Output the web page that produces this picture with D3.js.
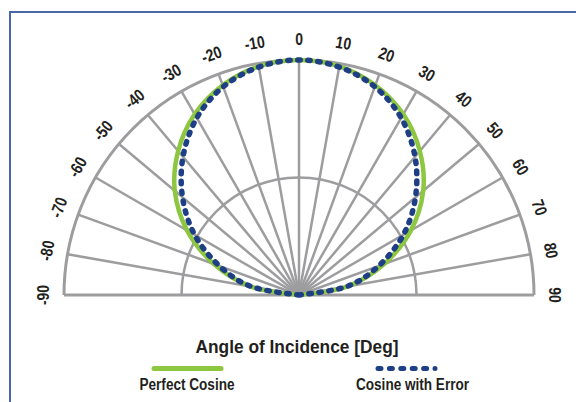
<!DOCTYPE html>
<html>
<head>
<meta charset="utf-8">
<script src="https://cdn.jsdelivr.net/npm/d3@7"></script>
<style>
  html, body { margin: 0; padding: 0; background: #fff; }
  svg { display: block; }
  text { font-family: "Liberation Sans Narrow", "Arial Narrow", "Liberation Sans", sans-serif; font-weight: bold; fill: #231f20; }
</style>
</head>
<body>
<svg id="chart" width="576" height="402"></svg>
<script>
// ---- data ----
const angles = [-90, -80, -70, -60, -50, -40, -30, -20, -10, 0, 10, 20, 30, 40, 50, 60, 70, 80, 90];
const perfectCosine   = [0, 0.21, 0.385, 0.55, 0.69, 0.80, 0.888, 0.95, 0.988, 1.0, 0.988, 0.95, 0.888, 0.80, 0.69, 0.55, 0.385, 0.21, 0];
const cosineWithError = [0, 0.205, 0.36, 0.513, 0.647, 0.768, 0.87, 0.943, 0.985, 1.0, 0.985, 0.943, 0.87, 0.768, 0.647, 0.513, 0.36, 0.205, 0];
const tickLabels = ["-90", "-80", "-70", "-60", "-50", "-40", "-30", "-20", "-10", "0", "10", "20", "30", "40", "50", "60", "70", "80", "90"];
const spokeAngles = [-80, -70, -60, -50, -40, -30, -20, -10, 0, 10, 20, 30, 40, 50, 60, 70, 80];
const gridRings = [0.5, 1.0];
const seriesNames = ["Perfect Cosine", "Cosine with Error"];
const axisTitle = "Angle of Incidence [Deg]";

// ---- layout ----
const svg = d3.select("#chart");
const cx = 299, cy = 295, R = 235;
const gray = "#9d9d9f", green = "#8dc63f", blue = "#1e3f86";

// frame
svg.append("path").attr("d", "M10,402 L10,12 L576,12")
  .attr("fill", "none").attr("stroke", "#4767a8").attr("stroke-width", 2);

const g = svg.append("g").attr("transform", `translate(${cx},${cy})`);

const rScale = d3.scaleLinear().domain([0, 1]).range([0, R]);
const aScale = d3.scaleLinear().domain([-90, 90]).range([-Math.PI / 2, Math.PI / 2]);

// rings (semicircles)
gridRings.forEach(v => {
  const p = d3.path();
  p.arc(0, 0, rScale(v), Math.PI, 2 * Math.PI);
  g.append("path").attr("d", p.toString()).attr("fill", "none")
    .attr("stroke", gray).attr("stroke-width", v === 1 ? 3 : 2.5);
});

// spokes
g.selectAll("line.spoke").data(spokeAngles).join("line").attr("class", "spoke")
  .attr("x1", 0).attr("y1", 0)
  .attr("x2", d => rScale(1) * Math.sin(aScale(d)))
  .attr("y2", d => -rScale(1) * Math.cos(aScale(d)))
  .attr("stroke", gray).attr("stroke-width", 2.5);

// baseline
g.append("line").attr("x1", rScale(1) * Math.sin(aScale(-90))).attr("x2", rScale(1) * Math.sin(aScale(90)))
  .attr("y1", 0).attr("y2", 0).attr("stroke", gray).attr("stroke-width", 3);

// curves
const line = d3.lineRadial()
  .angle((d, i) => aScale(angles[i]))
  .radius(d => rScale(d))
  .curve(d3.curveCardinal.tension(0));

g.append("path").datum(perfectCosine).attr("d", line)
  .attr("fill", "none").attr("stroke", green).attr("stroke-width", 4.5);

g.append("path").datum(cosineWithError).attr("d", line)
  .attr("fill", "none").attr("stroke", blue).attr("stroke-width", 5.5)
  .attr("stroke-linecap", "round").attr("stroke-dasharray", "2.5 7.5");

// angle labels
const labR = 256;
g.selectAll("text.tick").data(angles).join("text").attr("class", "tick")
  .attr("transform", d => {
    const a = aScale(d);
    return `translate(${labR * Math.sin(a)},${-labR * Math.cos(a)}) rotate(${d}) scale(0.82,1)`;
  })
  .attr("text-anchor", "middle").attr("dominant-baseline", "central")
  .style("font-size", "17px")
  .text((d, i) => tickLabels[i]);

// title
svg.append("text").attr("x", 297).attr("y", 353).attr("text-anchor", "middle")
  .style("font-size", "19px").attr("textLength", 203).attr("lengthAdjust", "spacingAndGlyphs")
  .text(axisTitle);

// legend
svg.append("line").attr("x1", 154).attr("x2", 221).attr("y1", 368.5).attr("y2", 368.5)
  .attr("stroke", green).attr("stroke-width", 5).attr("stroke-linecap", "round");
svg.append("text").attr("x", 187).attr("y", 390).attr("text-anchor", "middle")
  .style("font-size", "16px").attr("textLength", 95).attr("lengthAdjust", "spacingAndGlyphs")
  .text(seriesNames[0]);

svg.append("line").attr("x1", 378).attr("x2", 435).attr("y1", 368.5).attr("y2", 368.5)
  .attr("stroke", blue).attr("stroke-width", 5).attr("stroke-linecap", "round")
  .attr("stroke-dasharray", "3 8.4");
svg.append("text").attr("x", 412.5).attr("y", 390).attr("text-anchor", "middle")
  .style("font-size", "16px").attr("textLength", 113).attr("lengthAdjust", "spacingAndGlyphs")
  .text(seriesNames[1]);
</script>
</body>
</html>
